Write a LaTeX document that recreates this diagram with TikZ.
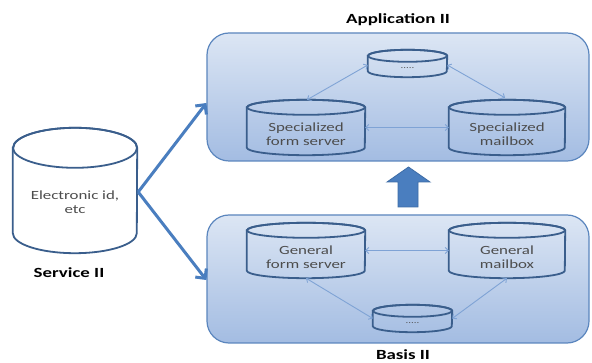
\documentclass[tikz,border=0pt]{standalone}
\usepackage{fontspec}
\setmainfont{Carlito}[FakeStretch=1.35]
\usetikzlibrary{arrows.meta,calc}
\definecolor{boxborder}{HTML}{5B86BE}
\definecolor{boxtop}{HTML}{DCE6F4}
\definecolor{boxbot}{HTML}{A3BCE2}
\definecolor{cylline}{HTML}{3A5E8C}
\definecolor{bigarrow}{HTML}{4A7EBF}
\definecolor{bigarrowline}{HTML}{3D6CA6}
\definecolor{thinarrow}{HTML}{7FA3D5}
\definecolor{bodytext}{HTML}{4D4D4D}
\tikzset{
  layerbox/.style={rounded corners=22pt, draw=boxborder, line width=1.2pt,
    top color=boxtop, bottom color=boxbot, minimum width=382pt, minimum height=128pt, inner sep=0pt},
  cylline/.style={draw=cylline, line width=1.8pt},
  cyltext/.style={text=bodytext, align=center, font=\fontsize{12.5}{14}\selectfont},
  dotstext/.style={text=bodytext, font=\fontsize{8}{9}\selectfont},
  titletext/.style={font=\bfseries\fontsize{14}{16}\selectfont, text=black},
  bigline/.style={draw=bigarrow, line width=3pt, -{Straight Barb[length=7pt,width=14pt,line width=3pt]}},
  thinline/.style={draw=thinarrow, line width=0.9pt,
    {Straight Barb[length=3pt,width=6pt]}-{Straight Barb[length=3pt,width=6pt]}},
}
% #1 name, #2 cx, #3 cy, #4 w, #5 h, #6 ry, #7 fill, #8 text offset (down), #9 text
\newcommand\dbcyl[9]{%
  \node[inner sep=0pt, minimum width=#4pt, minimum height=#5pt] (#1) at (#2,-#3) {};
  \path[cylline, fill=#7] ($(#1.north west)+(0,-#6)$) -- ($(#1.south west)+(0,#6)$)
     arc[start angle=180, end angle=360, x radius=#4/2, y radius=#6]
     -- ($(#1.north east)+(0,-#6)$)
     arc[start angle=0, end angle=180, x radius=#4/2, y radius=#6] -- cycle;
  \draw[cylline] ($(#1.north)+(0,-#6)$) ellipse[x radius=#4/2, y radius=#6];
  \node[cyltext] (#1-label) at ($(#1.center)+(0,-#8)$) {#9};
}
\begin{document}
\begin{tikzpicture}[x=1pt,y=1pt]
\useasboundingbox (0,0) rectangle (592,-363);
\clip (0,0) rectangle (592,-363);
\fill[white] (0,0) rectangle (592,-363);

% layer boxes
\node[layerbox] (app) at (398,-97) {};
\node[layerbox] (basis) at (398,-279) {};

% titles
\node[titletext] (apptitle) at (398,-20) {Application II};
\node[titletext] (basistitle) at (403,-355) {Basis II};
\node[titletext] (svctitle) at (69,-273) {Service II};

% service cylinder
\dbcyl{service}{75}{190.5}{124}{125}{20}{white}{11.5}{Electronic id,\\etc}

% application cylinders
\dbcyl{tdots}{407.5}{63.5}{79}{27}{6}{none}{6}{}
\node[dotstext] (tdots-text) at ($(tdots.center)+(0,-5)$) {.....};
\dbcyl{sform}{306}{127.5}{118}{55}{7.5}{none}{7}{Specialized\\form server}
\dbcyl{smail}{507}{127.5}{116}{55}{7.5}{none}{7}{Specialized\\mailbox}

% basis cylinders
\dbcyl{gform}{306}{250.5}{118}{55}{7.5}{none}{7}{General\\form server}
\dbcyl{gmail}{507}{250.5}{116}{55}{7.5}{none}{7}{General\\mailbox}
\dbcyl{bdots}{412.5}{318.5}{79}{27}{6}{none}{6}{}
\node[dotstext] (bdots-text) at ($(bdots.center)+(0,-5)$) {.....};

% thin connectors
\draw[thinline] (sform.east) -- (smail.west);
\draw[thinline] ($(tdots.west)+(0,-1.5)$) -- ($(sform.north)+(1,0)$);
\draw[thinline] ($(tdots.east)+(0,-1.5)$) -- ($(smail.north)+(-2,2)$);
\draw[thinline] (gform.east) -- (gmail.west);
\draw[thinline] (gform.south) -- (bdots.west);
\draw[thinline] (gmail.south) -- (bdots.east);

% service arrows
\coordinate (svcout) at ($(service.east)+(1,-1.5)$);
\coordinate (appin) at ($(app.west)+(0,-6)$);
\coordinate (basin) at ($(basis.west)+(0,-1)$);
\draw[bigline] (svcout) -- (appin);
\draw[bigline] (svcout) -- (basin);

% up arrow between layers
\filldraw[fill=bigarrow, draw=bigarrowline, line width=0.8pt]
  (398,-207) -- (398,-182) -- (387,-182) -- (408.5,-167) -- (430,-182)
  -- (418,-182) -- (418,-207) -- cycle;
\end{tikzpicture}
\end{document}
